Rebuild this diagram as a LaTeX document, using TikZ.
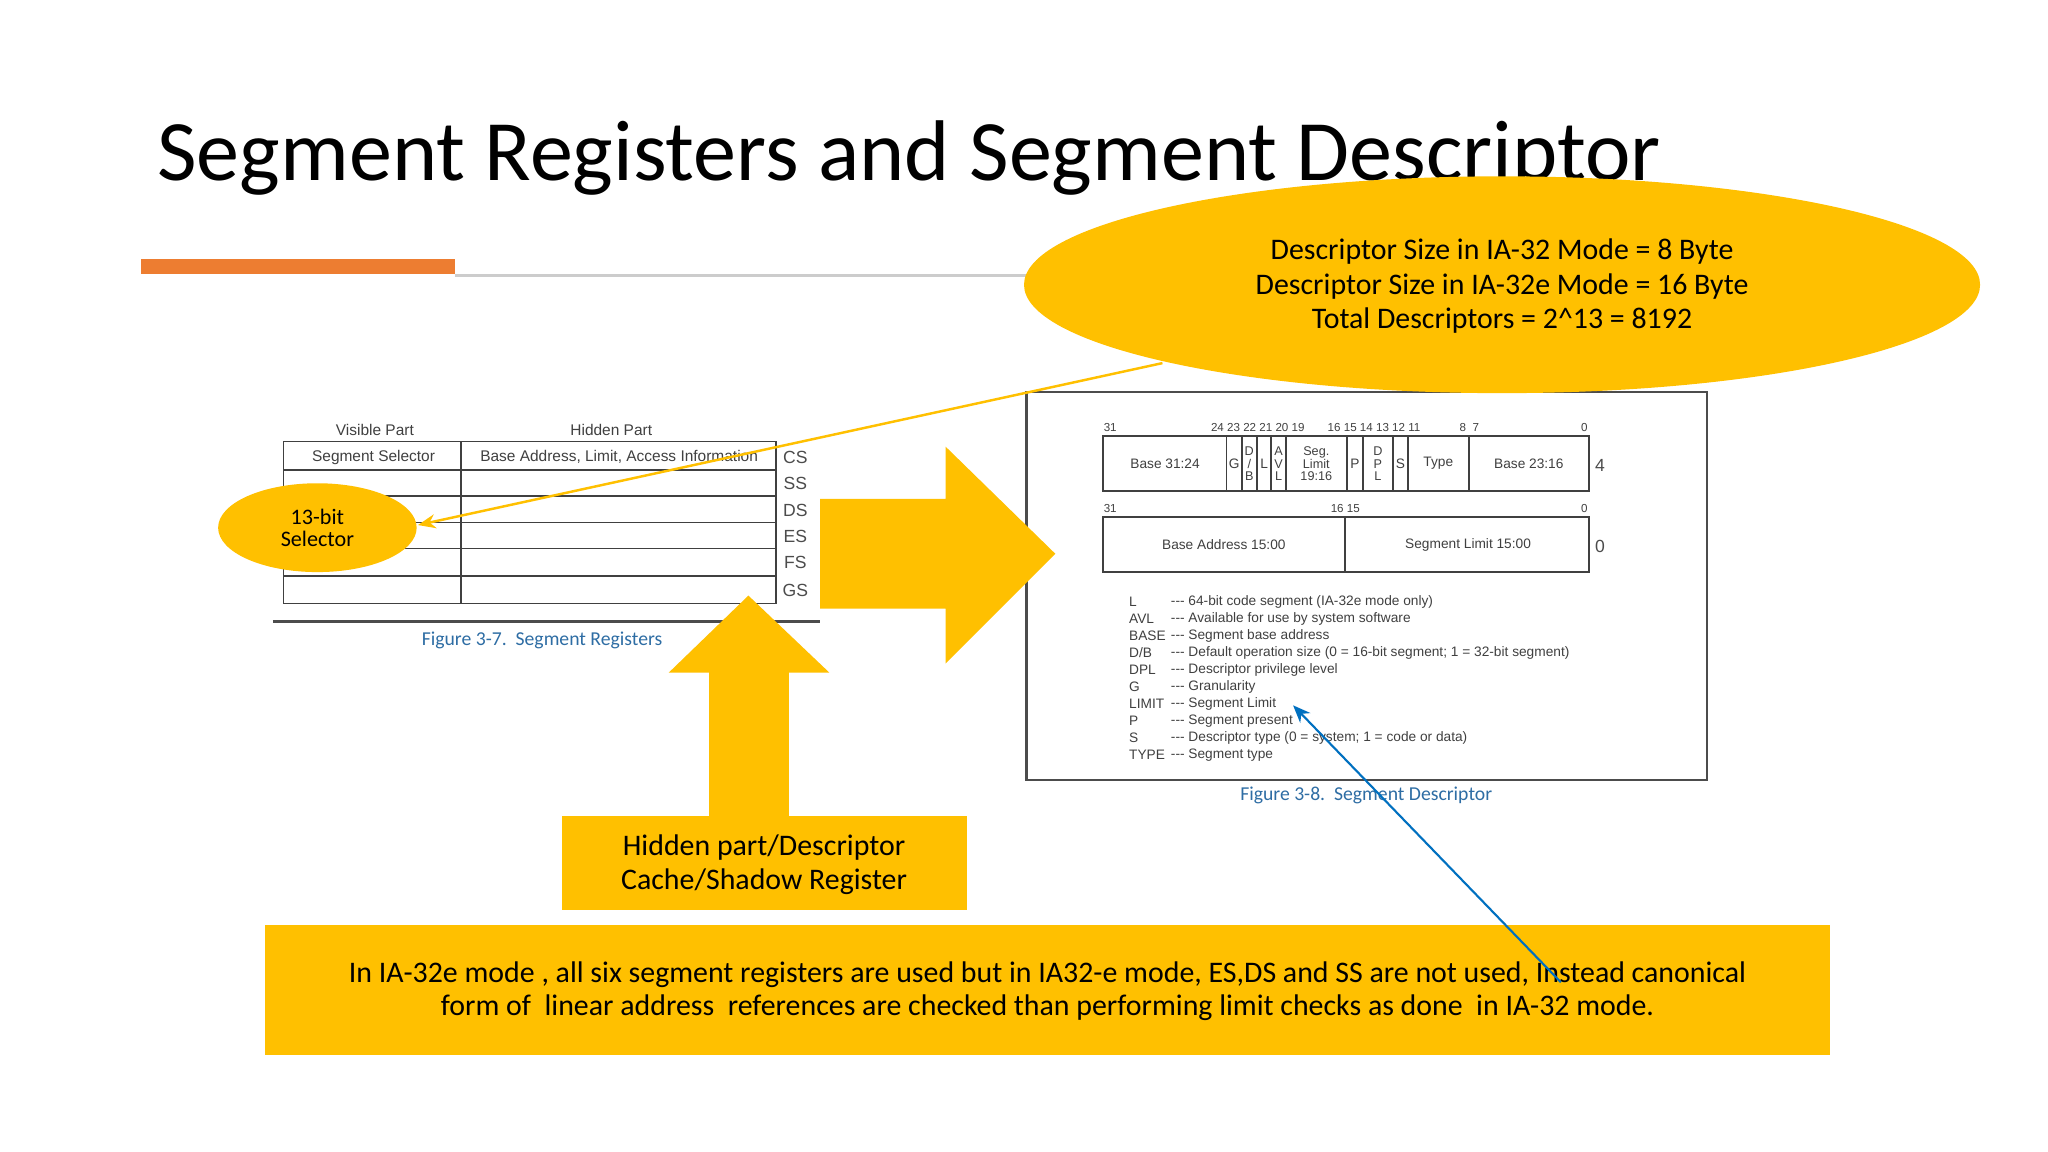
\documentclass[tikz,border=0pt]{standalone}
\usepackage{fontspec}
\setmainfont{Carlito}
\newfontfamily\arialf{Liberation Sans}
\usetikzlibrary{arrows.meta}
\definecolor{gold}{HTML}{FFC000}
\definecolor{orng}{HTML}{ED7D31}
\definecolor{capblue}{HTML}{2E6DA4}
\definecolor{arrblue}{HTML}{0070C0}
\newcommand{\fs}[1]{\fontsize{#1}{#1*1.2}\selectfont}
\tikzset{
  sm/.style={font=\arialf\fs{3.9pt}, inner sep=0pt, text=black!75},
  tb/.style={font=\arialf\fs{4.4pt}, inner sep=0pt, text=black!75},
  rg/.style={font=\arialf\fs{5pt}, inner sep=0pt, text=black!70},
  figcap/.style={font=\fs{5.6pt}, inner sep=0pt, text=capblue},
  big/.style={font=\fs{8.5pt}, align=center, inner sep=0pt},
  grid/.style={draw=black!75, line width=0.5pt},
}
\begin{document}
\begin{tikzpicture}[x=0.013061cm,y=-0.013061cm]
\useasboundingbox (0,0) rectangle (1568,882);
\fill[white] (0,0) rectangle (1568,882);
% title
\node[anchor=base west, inner sep=0pt, font=\fs{24.5pt}] (title) at (120,138) {Segment Registers and Segment Descriptor};
\fill[orng] (108,198) rectangle (348,210);
\draw[black!20, line width=0.8pt] (348,211) -- (800,211);
% left table
\node[tb] (vis) at (287,329) {Visible Part};
\node[tb] (hid) at (468,329) {Hidden Part};
\draw[grid] (217,338) rectangle (594,462);
\draw[grid] (353,338) -- (353,462);
\foreach \y in {360,380,400,420,441} \draw[grid] (217,\y) -- (594,\y);
\node[tb] (ss1) at (286,350) {Segment Selector};
\node[tb] (ba1) at (474,350) {Base Address, Limit, Access Information};
\foreach \t/\y in {CS/350,SS/370,DS/391,ES/411,FS/431,GS/452} \node[rg] (r\t) at (609,\y) {\t};
\draw[black!70, line width=0.9pt] (209,476) -- (628,476);
\node[figcap] (cap1) at (415,490) {Figure 3-7.\ \ Segment Registers};
% descriptor frame
\draw[black!70, line width=0.7pt] (786,300) rectangle (1307,597);
\draw[grid] (844.4,334) rectangle (1216.5,376);
\foreach \x in {939,950.7,962.2,973.3,984.4,1031.3,1043.3,1066.5,1077.9,1124.5} \draw[grid] (\x,334) -- (\x,376);
\node[sm] at (892,355) {Base 31:24};
\node[sm] at (945,355) {G};
\node[sm, align=center, font=\arialf\fs{3.6pt}] at (956.5,355) {D\\/\\B};
\node[sm] at (967.8,355) {L};
\node[sm, align=center, font=\arialf\fs{3.6pt}] at (978.9,355) {A\\V\\L};
\node[sm, align=center, font=\arialf\fs{3.6pt}] at (1007.8,355) {Seg.\\Limit\\19:16};
\node[sm] at (1037.3,355) {P};
\node[sm, align=center, font=\arialf\fs{3.6pt}] at (1054.9,355) {D\\P\\L};
\node[sm] at (1072.2,355) {S};
\node[sm] at (1101.2,355) {Type};
\node[sm] at (1170.5,355) {Base 23:16};
\node[rg] at (1225,356) {4};
\begin{scope}[every node/.style={sm, font=\arialf\fs{3.3pt}}]
\node at (850,327) {31};
\node at (963,327) {24 23 22 21 20 19};
\node at (1052,327) {16 15 14 13 12 11};
\node at (1125,327) {8\ \ 7};
\node at (1213,327) {0};
\node at (850,389) {31};
\node at (1030,389) {16 15};
\node at (1213,389) {0};
\end{scope}
\draw[grid] (844.4,396) rectangle (1216.5,438);
\draw[grid] (1030,396) -- (1030,438);
\node[sm] at (937,417) {Base Address 15:00};
\node[sm] at (1124,417) {Segment Limit 15:00};
\node[rg] at (1225,418) {0};
\foreach \a/\b [count=\i from 0] in {L/64-bit code segment (IA-32e mode only),AVL/Available for use by system software,BASE/Segment base address,{D/B}/Default operation size (0 = 16-bit segment; 1 = 32-bit segment),DPL/Descriptor privilege level,G/Granularity,LIMIT/Segment Limit,P/Segment present,S/Descriptor type (0 = system; 1 = code or data),TYPE/Segment type}{
  \node[sm, anchor=west] at (864,461+13*\i) {\a};
  \node[sm, anchor=west] at (896,461+13*\i) {--- \b};
}
\node[figcap] (cap2) at (1046,609) {Figure 3-8.\ \ Segment Descriptor};
% big arrows
\fill[gold] (628,382) -- (724,382) -- (724,342) -- (808,424) -- (724,508) -- (724,466) -- (628,466) -- cycle;
\fill[gold] (543,625) -- (543,515) -- (512,515) -- (573,456) -- (635,515) -- (604,515) -- (604,625) -- cycle;
% hidden part box
\fill[gold] (430,625) rectangle (740,697);
\node[big] (htext) at (585,662) {Hidden part/Descriptor\\[1pt]Cache/Shadow Register};
% bottom box
\fill[gold] (203,708) rectangle (1401,808);
\node[big] (btext) at (802,759) {In IA-32e mode , all six segment registers are used but in IA32-e mode, ES,DS and SS are not used, Instead canonical\\[1pt] form of\ \ linear address\ \ references are checked than performing limit checks as done\ \ in IA-32 mode.};
% ellipses
\fill[gold] (1150,218) ellipse [x radius=366, y radius=83];
\node[big] (etext) at (1150,219) {Descriptor Size in IA-32 Mode = 8 Byte\\[1.4pt]Descriptor Size in IA-32e Mode = 16 Byte\\[1.4pt]Total Descriptors = 2\textasciicircum13 = 8192};
\fill[gold] (243,404) ellipse [x radius=76, y radius=34];
\node[big, font=\fs{6.3pt}] (sel) at (243,404) {13-bit\\Selector};
\coordinate (ystart) at (890,278);
\coordinate (yend) at (320,402);
\draw[gold, line width=0.7pt, -{Stealth[length=5pt,width=4pt]}] (ystart) -- (yend);
\coordinate (bstart) at (1195,752);
\coordinate (bend) at (990,540);
\draw[arrblue, line width=0.6pt, -{Stealth[length=5pt,width=4pt]}] (bstart) -- (bend);
\end{tikzpicture}
\end{document}
